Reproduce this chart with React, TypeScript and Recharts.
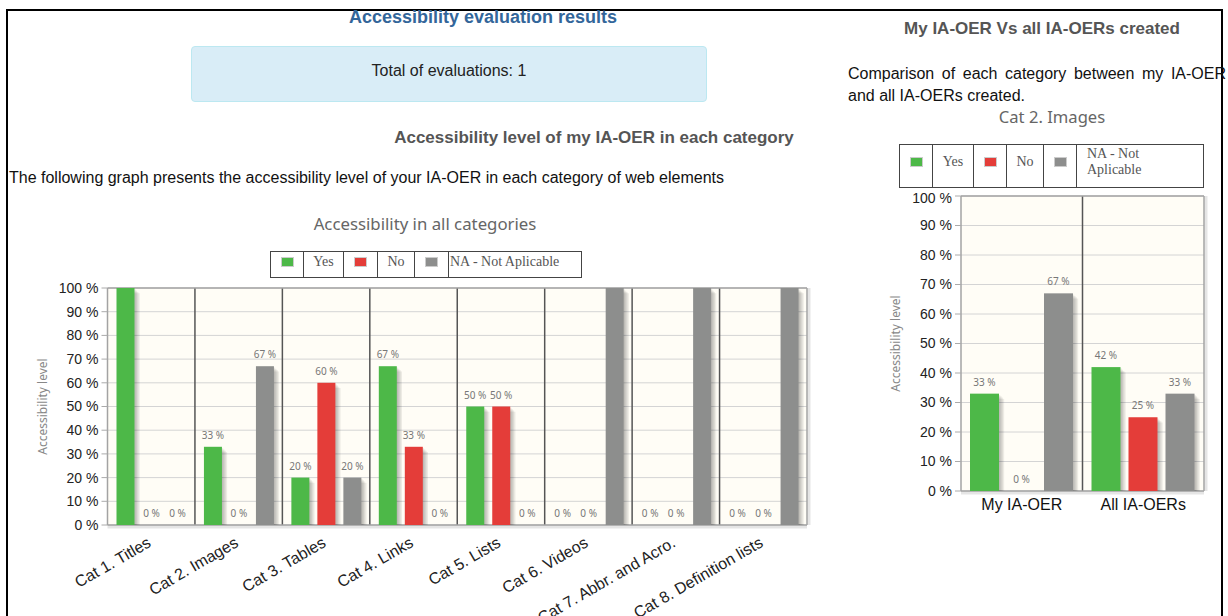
import React from 'react';
import { BarChart, Bar, XAxis, YAxis, CartesianGrid, LabelList } from 'recharts';

// values
const categories = [
  'Cat 1. Titles',
  'Cat 2. Images',
  'Cat 3. Tables',
  'Cat 4. Links',
  'Cat 5. Lists',
  'Cat 6. Videos',
  'Cat 7. Abbr. and Acro.',
  'Cat 8. Definition lists',
];
const yesValues = [100, 33, 20, 67, 50, 0, 0, 0];
const noValues = [0, 0, 60, 33, 50, 0, 0, 0];
const naValues = [0, 67, 20, 0, 0, 100, 100, 100];

const compareGroups = ['My IA-OER', 'All IA-OERs'];
const compareYes = [33, 42];
const compareNo = [0, 25];
const compareNa = [67, 33];

const yTicks = [0, 10, 20, 30, 40, 50, 60, 70, 80, 90, 100];
const seriesKeys = ['yes', 'no', 'na'];
const seriesNames = ['Yes', 'No', 'NA - Not Aplicable'];
const seriesColors = ['#4db848', '#e43d39', '#8d8e8d'];

const FONT = '"Liberation Sans", Arial, sans-serif';
const PLOT_FONT = '"Noto Sans", "Open Sans", sans-serif';

const allData = categories.map((name, i) => ({
  name,
  yes: yesValues[i],
  no: noValues[i],
  na: naValues[i],
}));

const compareData = compareGroups.map((name, i) => ({
  name,
  yes: compareYes[i],
  no: compareNo[i],
  na: compareNa[i],
}));

function ShadowBar(props: any) {
  const { x, y, width, height, fill } = props;
  if (!height || height <= 0) return null;
  return (
    <g>
      {[1, 2, 3, 4].map((k) => (
        <rect
          key={k}
          x={x + k * 1.3}
          y={y + k * 1.3}
          width={width}
          height={Math.max(0, height - k * 1.3)}
          fill="#000"
          fillOpacity={0.07}
        />
      ))}
      <rect x={x} y={y} width={width} height={height} fill={fill} />
    </g>
  );
}

function ValueLabel(props: any) {
  const { x, y, width, value } = props;
  // labels above the grid top are hidden, like the original plot
  if (value >= 100) return null;
  return (
    <text
      x={x + width / 2}
      y={y - 8}
      textAnchor="middle"
      fontSize={10}
      fill="#777"
      fontFamily={PLOT_FONT}
    >
      {value} %
    </text>
  );
}

function SlantTick(props: any) {
  const { x, y, payload } = props;
  return (
    <g transform={`translate(${x - 2},${y + 8})`}>
      <text
        textAnchor="end"
        transform="rotate(-30)"
        fontSize={16}
        fill="#222"
        fontFamily={FONT}
        dy="0.35em"
      >
        {payload.value}
      </text>
    </g>
  );
}

function LegendTable({
  left,
  top,
  height,
  widths,
  padBottom,
  wrapLast,
}: {
  left: number;
  top: number;
  height: number;
  widths: number[];
  padBottom: number;
  wrapLast?: boolean;
}) {
  const cell: React.CSSProperties = {
    border: '1px solid #444',
    padding: 0,
    paddingBottom: padBottom,
    verticalAlign: 'middle',
    height,
    boxSizing: 'border-box',
  };
  return (
    <table
      style={{
        position: 'absolute',
        left,
        top,
        borderCollapse: 'collapse',
        tableLayout: 'fixed',
        fontFamily: '"Liberation Serif", "Times New Roman", serif',
        fontSize: 14,
        color: '#555',
        lineHeight: '16px',
      }}
    >
      <tbody>
        <tr>
          {seriesNames.map((name, i) => {
            const last = i === seriesNames.length - 1;
            return (
              <React.Fragment key={name}>
                <td style={{ ...cell, width: widths[i * 2] }}>
                  <div
                    style={{
                      width: 11,
                      height: 8,
                      margin: '0 auto',
                      background: seriesColors[i],
                      border: '1px solid #ccc',
                    }}
                  />
                </td>
                <td
                  style={{
                    ...cell,
                    width: widths[i * 2 + 1],
                    textAlign: last ? 'left' : 'center',
                    paddingLeft: last ? (wrapLast ? 10 : 1) : 0,
                  }}
                >
                  {last && wrapLast ? (
                    <span style={{ display: 'inline-block', width: 80 }}>{name}</span>
                  ) : (
                    name
                  )}
                </td>
              </React.Fragment>
            );
          })}
        </tr>
      </tbody>
    </table>
  );
}

function gridLayers(n: number) {
  return [
    <CartesianGrid key="bg" vertical={false} fill="#fffdf6" stroke="#d4d4d4" />,
    <CartesianGrid
      key="sep"
      horizontal={false}
      stroke="#555"
      strokeWidth={1.5}
      verticalCoordinatesGenerator={({ offset }: any) =>
        Array.from({ length: n - 1 }, (_, i) => offset.left + ((i + 1) * offset.width) / n)
      }
    />,
    <CartesianGrid
      key="shadow"
      stroke="#000"
      strokeOpacity={0.1}
      strokeWidth={3}
      horizontalCoordinatesGenerator={({ offset }: any) => [offset.top + offset.height + 2]}
      verticalCoordinatesGenerator={({ offset }: any) => [offset.left + offset.width + 2]}
    />,
    <CartesianGrid
      key="frame"
      stroke="#a3a3a3"
      strokeWidth={1.5}
      horizontalCoordinatesGenerator={({ offset }: any) => [offset.top, offset.top + offset.height]}
      verticalCoordinatesGenerator={({ offset }: any) => [offset.left, offset.left + offset.width]}
    />,
  ];
}

function renderBars(barSize: number) {
  return seriesKeys.map((key, i) => (
    <Bar
      key={key}
      dataKey={key}
      name={seriesNames[i]}
      fill={seriesColors[i]}
      barSize={barSize}
      shape={<ShadowBar />}
      isAnimationActive={false}
    >
      <LabelList dataKey={key} content={<ValueLabel />} />
    </Bar>
  ));
}

const yLabel = {
  value: 'Accessibility level',
  angle: -90,
  position: 'insideLeft' as const,
  offset: 13,
  style: { textAnchor: 'middle', fill: '#888', fontSize: 12, fontFamily: PLOT_FONT },
};

const text = (extra: React.CSSProperties): React.CSSProperties => ({
  position: 'absolute',
  fontFamily: FONT,
  whiteSpace: 'nowrap',
  ...extra,
});

export default function App() {
  return (
    <div
      style={{
        position: 'absolute',
        left: 0,
        top: 0,
        width: 1228,
        height: 616,
        overflow: 'hidden',
        background: '#fff',
      }}
    >
      <div
        style={{
          position: 'absolute',
          left: 6,
          top: 9,
          width: 1217,
          height: 700,
          border: '2px solid #000',
          boxSizing: 'border-box',
        }}
      />

      <div style={text({ left: 283, top: 7, width: 400, textAlign: 'center', fontSize: 18, fontWeight: 'bold', lineHeight: '20px', color: '#33669a' })}>
        Accessibility evaluation results
      </div>
      <div
        style={{
          position: 'absolute',
          left: 191,
          top: 46,
          width: 516,
          height: 56,
          boxSizing: 'border-box',
          background: '#d9edf7',
          border: '1px solid #bce8f1',
          borderRadius: 4,
          display: 'flex',
          alignItems: 'center',
          justifyContent: 'center',
          paddingBottom: 6,
          fontFamily: FONT,
          fontSize: 16,
          color: '#222',
        }}
      >
        Total of evaluations: 1
      </div>
      <div style={text({ left: 344, top: 128, width: 500, textAlign: 'center', fontSize: 17, fontWeight: 'bold', lineHeight: '20px', color: '#555' })}>
        Accessibility level of my IA-OER in each category
      </div>
      <div style={text({ left: 9, top: 168, fontSize: 16, lineHeight: '20px', color: '#111' })}>
        The following graph presents the accessibility level of your IA-OER in each category of web elements
      </div>

      <div style={text({ left: 225, top: 213, width: 400, textAlign: 'center', fontFamily: PLOT_FONT, fontSize: 16.8, lineHeight: '22px', color: '#666' })}>
        Accessibility in all categories
      </div>
      <LegendTable left={270} top={251} height={26} widths={[33, 40, 34, 37, 34, 133]} padBottom={6} />

      <div style={{ position: 'absolute', left: 0, top: 200 }}>
        <BarChart
          width={830}
          height={416}
          data={allData}
          margin={{ top: 88, right: 23, bottom: 11, left: 30 }}
          barGap={8}
        >
          {gridLayers(categories.length)}
          <XAxis dataKey="name" interval={0} tickLine={false} axisLine={false} height={80} tick={<SlantTick />} />
          <YAxis
            width={77.5}
            domain={[0, 100]}
            ticks={yTicks}
            tickFormatter={(v: number) => `${v} %`}
            axisLine={false}
            tickLine={{ stroke: '#aaa' }}
            tickSize={6}
            tickMargin={3}
            tick={{ fill: '#222', fontSize: 14, fontFamily: FONT }}
            label={yLabel}
          />
          {renderBars(18)}
        </BarChart>
      </div>

      <div style={text({ left: 842, top: 19, width: 400, textAlign: 'center', fontSize: 17, fontWeight: 'bold', lineHeight: '20px', color: '#555' })}>
        My IA-OER Vs all IA-OERs created
      </div>
      <div
        style={{
          position: 'absolute',
          left: 848,
          top: 63,
          width: 378,
          fontFamily: FONT,
          fontSize: 16,
          lineHeight: '22px',
          color: '#111',
          textAlign: 'justify',
        }}
      >
        Comparison of each category between my IA-OER and all IA-OERs created.
      </div>
      <div style={text({ left: 952, top: 106, width: 200, textAlign: 'center', fontFamily: PLOT_FONT, fontSize: 16.6, lineHeight: '22px', color: '#666' })}>
        Cat 2. Images
      </div>
      <LegendTable left={899} top={144} height={43} widths={[33, 41, 33, 37, 33, 127]} padBottom={8} wrapLast />

      <div style={{ position: 'absolute', left: 840, top: 190 }}>
        <BarChart
          width={388}
          height={426}
          data={compareData}
          margin={{ top: 6, right: 24, bottom: 95, left: 43 }}
          barGap={8}
        >
          {gridLayers(compareGroups.length)}
          <XAxis
            dataKey="name"
            interval={0}
            tickLine={false}
            axisLine={false}
            height={30}
            tick={{ fill: '#111', fontSize: 16, fontFamily: FONT }}
          />
          <YAxis
            width={78}
            domain={[0, 100]}
            ticks={yTicks}
            tickFormatter={(v: number) => `${v} %`}
            axisLine={false}
            tickLine={{ stroke: '#aaa' }}
            tickSize={6}
            tickMargin={3}
            tick={{ fill: '#222', fontSize: 14, fontFamily: FONT }}
            label={yLabel}
          />
          {renderBars(29)}
        </BarChart>
      </div>
    </div>
  );
}
